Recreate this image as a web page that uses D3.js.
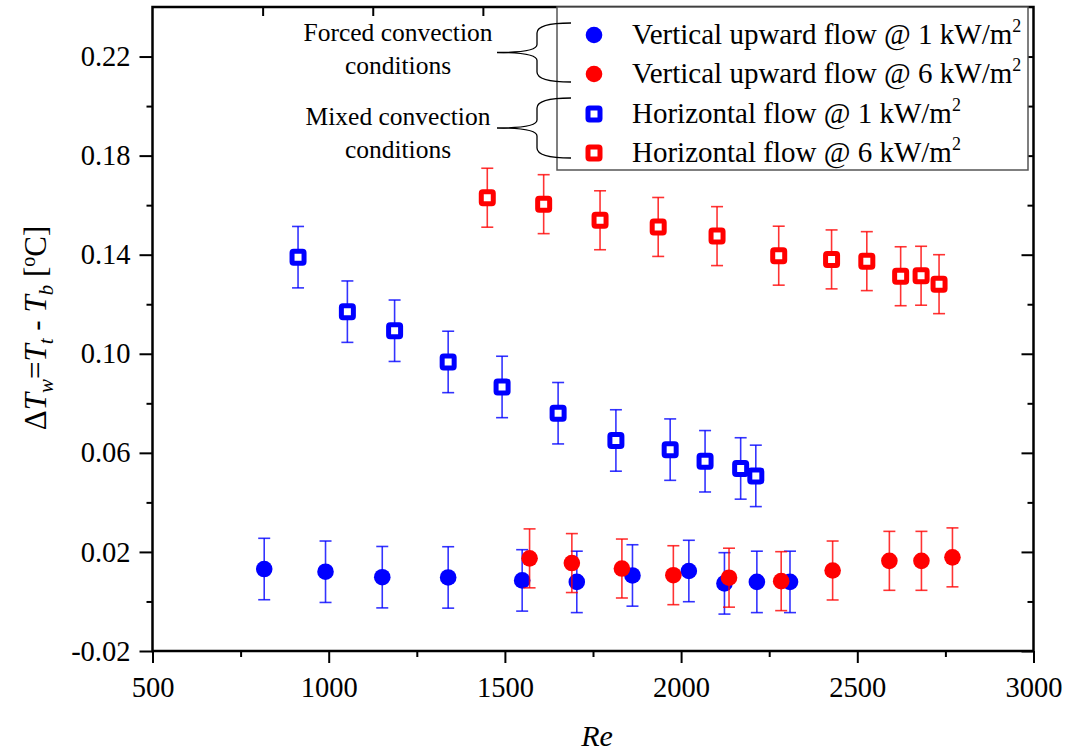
<!DOCTYPE html>
<html>
<head>
<meta charset="utf-8">
<script src="https://cdn.jsdelivr.net/npm/d3@7"></script>
<style>
body { margin: 0; background: #fff; }
text { font-family: "Liberation Serif", "Times New Roman", serif; }
</style>
</head>
<body>
<svg id="chart" width="1065" height="753"></svg>
<script>
// values (Re, delta T in degC)
var reBlueCirc = [817, 991, 1152, 1339, 1549, 1704, 1862, 2022, 2123, 2215, 2309];
var dtBlueCirc = [0.0131, 0.0120, 0.0098, 0.0097, 0.0085, 0.0079, 0.0105, 0.0123, 0.0073, 0.0079, 0.0079];
var reRedCirc = [1570, 1690, 1832, 1978, 2136, 2284, 2430, 2591, 2682, 2770];
var dtRedCirc = [0.0174, 0.0155, 0.0133, 0.0106, 0.0096, 0.0082, 0.0125, 0.0164, 0.0164, 0.0178];
var reBlueSq = [913, 1053, 1187, 1339, 1492, 1651, 1815, 1969, 2068, 2169, 2212];
var dtBlueSq = [0.139, 0.117, 0.1093, 0.0967, 0.0866, 0.0760, 0.0650, 0.0613, 0.0566, 0.0537, 0.0507];
var reRedSq = [1450, 1610, 1770, 1935, 2102, 2277, 2427, 2527, 2623, 2681, 2732];
var dtRedSq = [0.1630, 0.1604, 0.1539, 0.1512, 0.1475, 0.1396, 0.1381, 0.1374, 0.1313, 0.1315, 0.1281];
var errBlue = 0.0124;
var errRed = 0.0119;

var xMajor = [500, 1000, 1500, 2000, 2500, 3000];
var xMinor = [750, 1250, 1750, 2250, 2750];
var yMajor = [-0.02, 0.02, 0.06, 0.10, 0.14, 0.18, 0.22];
var yMinor = [0.00, 0.04, 0.08, 0.12, 0.16, 0.20];
var topTicks = [1, 2, 3, 4, 5, 6, 7];

var legendLabels = ["Vertical upward flow @ 1 kW/m", "Vertical upward flow @ 6 kW/m",
                    "Horizontal flow @ 1 kW/m", "Horizontal flow @ 6 kW/m"];

var svg = d3.select("#chart");
var pLeft = 152.5, pRight = 1033.5, pTop = 7, pBottom = 651;

var x = d3.scaleLinear().domain([500, 3000]).range([pLeft, pRight]);
var y = d3.scaleLinear().domain([-0.02, 0.24]).range([pBottom, pTop]);
var xTop = d3.scaleLinear().domain([0, 8]).range([pLeft, pRight]);

function zip(a, b) { return a.map(function(d, i) { return [d, b[i]]; }); }

var series = [
  { data: zip(reBlueCirc, dtBlueCirc), color: "#0000ff", shape: "circle", err: errBlue },
  { data: zip(reRedCirc, dtRedCirc), color: "#ff0000", shape: "circle", err: errRed },
  { data: zip(reBlueSq, dtBlueSq), color: "#0000ff", shape: "square", err: errBlue },
  { data: zip(reRedSq, dtRedSq), color: "#ff0000", shape: "square", err: errRed }
];

// axes
function styleAxis(g) {
  g.select(".domain").remove();
  g.selectAll("line").attr("stroke", "#000").attr("stroke-width", 2);
  g.selectAll("text").attr("font-size", "28.5px").attr("fill", "#000")
    .style("font-family", "'Liberation Serif', 'Times New Roman', serif");
}
var fmtY = function(d) { return d3.format(".2f")(d).replace("\u2212", "-"); };

svg.append("g").attr("transform", "translate(0," + pBottom + ")")
  .call(d3.axisBottom(x).tickValues(xMajor).tickSize(12).tickPadding(14).tickFormat(d3.format("d")))
  .call(styleAxis);
svg.append("g").attr("transform", "translate(0," + pBottom + ")")
  .call(d3.axisBottom(x).tickValues(xMinor).tickSize(6).tickFormat(""))
  .call(styleAxis);
svg.append("g").attr("transform", "translate(" + pLeft + ",0)")
  .call(d3.axisLeft(y).tickValues(yMajor).tickSize(13).tickPadding(9).tickFormat(fmtY))
  .call(styleAxis);
svg.append("g").attr("transform", "translate(" + pLeft + ",0)")
  .call(d3.axisLeft(y).tickValues(yMinor).tickSize(6).tickFormat(""))
  .call(styleAxis);
// mirrored right axis, ticks pointing in
svg.append("g").attr("transform", "translate(" + pRight + ",0)")
  .call(d3.axisLeft(y).tickValues(yMajor).tickSize(12).tickFormat(""))
  .call(styleAxis);
svg.append("g").attr("transform", "translate(" + pRight + ",0)")
  .call(d3.axisLeft(y).tickValues(yMinor).tickSize(6).tickFormat(""))
  .call(styleAxis);
// top axis, ticks pointing in
svg.append("g").attr("transform", "translate(0," + pTop + ")")
  .call(d3.axisBottom(xTop).tickValues(topTicks).tickSize(9).tickFormat(""))
  .call(styleAxis);

svg.append("rect")
  .attr("x", pLeft).attr("y", pTop)
  .attr("width", pRight - pLeft).attr("height", pBottom - pTop)
  .attr("fill", "none").attr("stroke", "#000").attr("stroke-width", 2.5);

// error bars + markers
var plot = svg.append("g");
series.forEach(function(s) {
  var g = plot.append("g");
  var eb = g.selectAll(".eb").data(s.data).enter().append("g")
    .attr("stroke", s.color).attr("stroke-width", 1.6).attr("stroke-opacity", 0.8);
  eb.append("line")
    .attr("x1", function(d) { return x(d[0]); }).attr("x2", function(d) { return x(d[0]); })
    .attr("y1", function(d) { return y(d[1] + s.err); }).attr("y2", function(d) { return y(d[1] - s.err); });
  eb.append("line")
    .attr("x1", function(d) { return x(d[0]) - 6; }).attr("x2", function(d) { return x(d[0]) + 6; })
    .attr("y1", function(d) { return y(d[1] + s.err); }).attr("y2", function(d) { return y(d[1] + s.err); });
  eb.append("line")
    .attr("x1", function(d) { return x(d[0]) - 6; }).attr("x2", function(d) { return x(d[0]) + 6; })
    .attr("y1", function(d) { return y(d[1] - s.err); }).attr("y2", function(d) { return y(d[1] - s.err); });

  if (s.shape == "circle") {
    g.selectAll(".pt").data(s.data).enter().append("circle")
      .attr("cx", function(d) { return x(d[0]); })
      .attr("cy", function(d) { return y(d[1]); })
      .attr("r", 8.3)
      .attr("fill", s.color);
  } else {
    g.selectAll(".pt").data(s.data).enter().append("rect")
      .attr("x", function(d) { return x(d[0]) - 6; })
      .attr("y", function(d) { return y(d[1]) - 6; })
      .attr("width", 12).attr("height", 12).attr("rx", 1.5)
      .attr("fill", "#fff").attr("stroke", s.color).attr("stroke-width", 5);
  }
});

// legend
var lg = svg.append("g");
lg.append("rect")
  .attr("x", 557).attr("y", pTop).attr("width", 471).attr("height", 163)
  .attr("fill", "#fff").attr("stroke", "#555").attr("stroke-width", 1.5);
var rowY = [35, 74, 114, 153];
series.forEach(function(s, i) {
  if (s.shape == "circle") {
    lg.append("circle").attr("cx", 594).attr("cy", rowY[i]).attr("r", 8.3).attr("fill", s.color);
  } else {
    lg.append("rect").attr("x", 588).attr("y", rowY[i] - 6).attr("width", 12).attr("height", 12).attr("rx", 1.5)
      .attr("fill", "#fff").attr("stroke", s.color).attr("stroke-width", 5);
  }
  var t = lg.append("text").attr("x", 632).attr("y", rowY[i] + 9).attr("font-size", "29px");
  t.append("tspan").text(legendLabels[i]);
  t.append("tspan").attr("dy", -12).attr("font-size", "18px").text("2");
});

// annotations with curly braces
function brace(xTip, yTop, yBot, xMid) {
  var ym = (yTop + yBot) / 2, xs = 537;
  return "M" + xTip + "," + yTop +
    " Q" + xs + "," + yTop + " " + xs + "," + (yTop + 10) +
    " L" + xs + "," + (ym - 8) +
    " Q" + xs + "," + ym + " " + xMid + "," + ym +
    " Q" + xs + "," + ym + " " + xs + "," + (ym + 8) +
    " L" + xs + "," + (yBot - 10) +
    " Q" + xs + "," + yBot + " " + xTip + "," + yBot;
}
svg.append("path").attr("d", brace(571, 23, 82, 497))
  .attr("fill", "none").attr("stroke", "#000").attr("stroke-width", 1.3);
svg.append("path").attr("d", brace(571, 98, 158, 497))
  .attr("fill", "none").attr("stroke", "#000").attr("stroke-width", 1.3);

var notes = [["Forced convection", 41], ["conditions", 74], ["Mixed convection", 125], ["conditions", 158]];
notes.forEach(function(n) {
  svg.append("text").attr("x", 398).attr("y", n[1]).attr("text-anchor", "middle")
    .attr("font-size", "25.5px").text(n[0]);
});

// axis titles
svg.append("text").attr("x", 597).attr("y", 746).attr("text-anchor", "middle")
  .attr("font-size", "30px").attr("font-style", "italic").text("Re");

var yt = svg.append("text").attr("transform", "translate(46,328) rotate(-90)")
  .attr("text-anchor", "middle").attr("font-size", "31px");
yt.append("tspan").text("\u0394");
yt.append("tspan").attr("font-style", "italic").text("T");
yt.append("tspan").attr("font-style", "italic").attr("font-size", "21px").attr("dy", 7).text("w");
yt.append("tspan").attr("dy", -7).text("=");
yt.append("tspan").attr("font-style", "italic").text("T");
yt.append("tspan").attr("font-style", "italic").attr("font-size", "21px").attr("dy", 7).text("t");
yt.append("tspan").attr("dy", -7).text(" - ");
yt.append("tspan").attr("font-style", "italic").text("T");
yt.append("tspan").attr("font-style", "italic").attr("font-size", "21px").attr("dy", 7).text("b");
yt.append("tspan").attr("dy", -7).text(" [");
yt.append("tspan").attr("font-size", "20px").attr("dy", -11).text("o");
yt.append("tspan").attr("dy", 11).text("C]");
</script>
</body>
</html>
